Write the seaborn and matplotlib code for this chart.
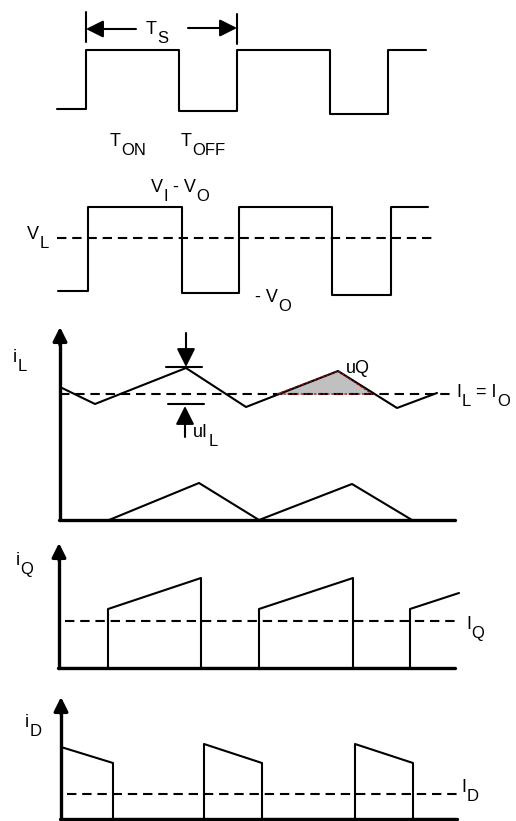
import numpy as np
import pandas as pd
import matplotlib
matplotlib.use("Agg")
import matplotlib.pyplot as plt
import seaborn as sns

# Dados das formas de onda (eixo y para baixo)
chave_t = [57, 86, 86, 179, 179, 237, 237, 330, 330, 388, 388, 426]
chave_v = [109, 109, 50, 50, 111, 111, 50, 50, 114, 114, 50, 50]

vl_t = [58, 88, 88, 182, 182, 239, 239, 332, 332, 391, 391, 428]
vl_v = [291, 291, 207, 207, 293, 293, 207, 207, 295, 295, 207, 207]
vl_medio = 238

il_t = [60, 95, 186, 246, 338, 397, 437]
il_v = [387, 404, 368, 407, 371, 408, 393]
il_medio = 394

iq_cap_t = [109, 199, 259, 352, 412]
iq_cap_v = [520, 483, 520, 484, 520]

iq_t = [59, 108, 108, 201, 201, 259, 259, 353, 353, 410, 410, 459]
iq_v = [668, 668, 609, 578, 668, 668, 609, 578, 668, 668, 609, 593]
iq_medio = 621

id_t = [61, 113, 113, 204, 204, 262, 262, 355, 355, 413, 413, 457]
id_v = [747, 763, 819, 819, 744, 763, 819, 819, 744, 763, 819, 819]
id_medio = 794

uq_t = [277, 338, 372]
uq_v = [394, 371, 394]

FONTE = "Liberation Sans"
LW = 1.5
LW_EIXO = 2.4


def rotulo(ax, x, y, pecas, tam=13):
    """Escreve texto com subscritos: pecas = [(texto, subscrito?), ...]"""
    anterior = None
    ant_sub = False
    for texto, sub in pecas:
        t_size = tam - 1 if sub else tam
        if anterior is None:
            anterior = ax.text(x, y + (6 if sub else 0), texto, fontsize=t_size, family=FONTE,
                               va="baseline", ha="left", color="black")
        else:
            dy = -6 if sub else (6 if ant_sub else 0)
            anterior = ax.annotate(texto, xy=(1, 0), xycoords=anterior,
                                   xytext=(0.3, dy), textcoords="offset points",
                                   fontsize=t_size, family=FONTE, va="bottom",
                                   ha="left", color="black")
        ant_sub = sub
    return anterior


def linha(ax, t, v, **kw):
    df = pd.DataFrame({"t": t, "v": v})
    sns.lineplot(data=df, x="t", y="v", sort=False, estimator=None, ax=ax,
                 color="black", lw=kw.pop("lw", LW), **kw)


def tracejada(ax, x0, x1, y):
    ax.plot([x0, x1], [y, y], color="black", lw=LW, dashes=(4.5, 2.8))


def seta(ax, x0, y0, x1, y1, lw=LW, cab=1.0):
    ax.annotate("", xy=(x1, y1), xytext=(x0, y0),
                arrowprops=dict(arrowstyle=f"-|>,head_length={0.7*cab},head_width={0.35*cab}",
                                color="black", lw=lw, shrinkA=0, shrinkB=0))


sns.set_style("white")
fig = plt.figure(figsize=(5.16, 8.21), dpi=100)
ax = fig.add_axes([0, 0, 1, 1])
ax.set_xlim(0, 516)
ax.set_ylim(821, 0)
ax.axis("off")

# Painel 1 - chave
linha(ax, chave_t, chave_v)
ax.plot([86, 86], [12, 42], color="black", lw=LW)
ax.plot([237, 237], [14, 44], color="black", lw=LW)
seta(ax, 136, 29, 86, 29, cab=1.5)
seta(ax, 188, 28, 237, 28, cab=1.5)
rotulo(ax, 146, 34, [("T", False), ("S", True)])
rotulo(ax, 110, 146, [("T", False), ("ON", True)])
rotulo(ax, 181, 146, [("T", False), ("OFF", True)])

# Painel 2 - tensao no indutor
linha(ax, vl_t, vl_v)
tracejada(ax, 57, 435, vl_medio)
rotulo(ax, 27, 239, [("V", False), ("L", True)])
rotulo(ax, 151, 192, [("V", False), ("I", True), (" - V", False), ("O", True)])
rotulo(ax, 255, 302, [("- V", False), ("O", True)])

# Painel 3 - corrente no indutor
ax.plot([60, 60], [520, 338], color="black", lw=LW_EIXO)
seta(ax, 60, 345, 60, 327, lw=LW_EIXO, cab=1.2)
ax.plot([59, 455], [520, 520], color="black", lw=LW_EIXO)
ax.fill(uq_t, uq_v, color="#c0c0c0", zorder=1)
linha(ax, il_t, il_v)
ax.plot(uq_t + [uq_t[0]], uq_v + [uq_v[0]], color="#a01010", lw=0.9, dashes=(2, 1.5), zorder=3)
tracejada(ax, 60, 450, il_medio)
linha(ax, iq_cap_t, iq_cap_v)
seta(ax, 186, 333, 186, 367, cab=1.6)
ax.plot([166, 202], [367, 367], color="black", lw=LW)
ax.plot([168, 204], [404, 404], color="black", lw=LW)
seta(ax, 185, 437, 185, 406, cab=1.6)
rotulo(ax, 13, 362, [("i", False), ("L", True)])
rotulo(ax, 193, 437, [("uI", False), ("L", True)])
rotulo(ax, 346, 373, [("uQ", False)])
rotulo(ax, 456, 397, [("I", False), ("L", True), (" = I", False), ("O", True)])

# Painel 4 - corrente na chave
ax.plot([59, 59], [668, 555], color="black", lw=LW_EIXO)
seta(ax, 59, 560, 59, 543, lw=LW_EIXO, cab=1.2)
ax.plot([58, 455], [668, 668], color="black", lw=LW_EIXO)
linha(ax, iq_t, iq_v)
tracejada(ax, 65, 455, iq_medio)
rotulo(ax, 16, 565, [("i", False), ("Q", True)])
rotulo(ax, 466, 629, [("I", False), ("Q", True)])

# Painel 5 - corrente no diodo
ax.plot([61, 61], [819, 710], color="black", lw=LW_EIXO)
seta(ax, 61, 714, 61, 697, lw=LW_EIXO, cab=1.2)
ax.plot([60, 457], [819, 819], color="black", lw=LW_EIXO)
linha(ax, id_t, id_v)
tracejada(ax, 67, 457, id_medio)
rotulo(ax, 25, 727, [("i", False), ("D", True)])
rotulo(ax, 461, 792, [("I", False), ("D", True)])

plt.savefig("out.png", dpi=100)
